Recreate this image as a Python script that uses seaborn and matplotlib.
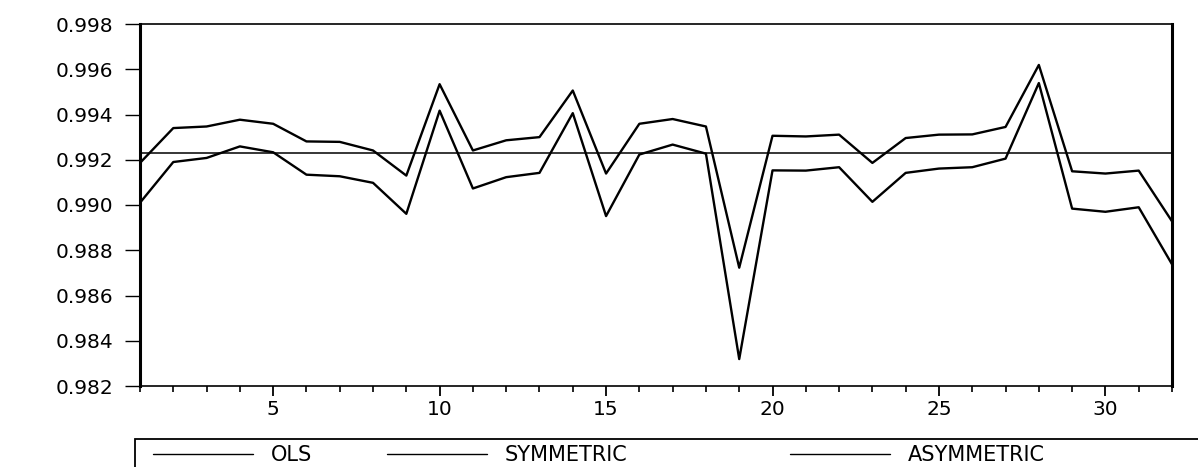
import numpy as np
import pandas as pd
import matplotlib
matplotlib.use("Agg")
import matplotlib.pyplot as plt
import seaborn as sns
from matplotlib.ticker import MultipleLocator, FixedLocator
from matplotlib.patches import Rectangle
from matplotlib.lines import Line2D

# ---- data ----
obs = list(range(1, 33))
ols = [0.99232] * 32
symmetric = [0.99186, 0.99340, 0.99347, 0.99377, 0.99359, 0.99281, 0.99279, 0.99241,
             0.99130, 0.99534, 0.99241, 0.99286, 0.99300, 0.99506, 0.99139, 0.99359,
             0.99380, 0.99347, 0.98723, 0.99306, 0.99303, 0.99311, 0.99186, 0.99296,
             0.99311, 0.99312, 0.99345, 0.99619, 0.99149, 0.99139, 0.99152, 0.98928]
asymmetric = [0.99010, 0.99190, 0.99208, 0.99259, 0.99233, 0.99134, 0.99127, 0.99098,
              0.98961, 0.99417, 0.99073, 0.99123, 0.99142, 0.99406, 0.98951, 0.99223,
              0.99267, 0.99227, 0.98319, 0.99153, 0.99152, 0.99167, 0.99014, 0.99142,
              0.99161, 0.99167, 0.99205, 0.99539, 0.98984, 0.98970, 0.98990, 0.98738]
series_names = ["OLS", "SYMMETRIC", "ASYMMETRIC"]
y_ticks = [0.982, 0.984, 0.986, 0.988, 0.990, 0.992, 0.994, 0.996, 0.998]
x_major = [5, 10, 15, 20, 25, 30]

sns.set_style("white")
plt.rcParams["font.family"] = ["DejaVu Sans"]
plt.rcParams["text.color"] = "black"

W, H = 1198, 467
fig = plt.figure(figsize=(W / 100, H / 100), dpi=100)
ax = fig.add_axes([140 / W, 1 - 386 / H, (1172 - 140) / W, (386 - 24) / H])

df = pd.DataFrame({"obs": obs, "OLS": ols, "SYMMETRIC": symmetric, "ASYMMETRIC": asymmetric})
sns.lineplot(data=df, x="obs", y="OLS", ax=ax, color="black", linewidth=1.1, label=series_names[0])
sns.lineplot(data=df, x="obs", y="SYMMETRIC", ax=ax, color="black", linewidth=1.7, label=series_names[1])
sns.lineplot(data=df, x="obs", y="ASYMMETRIC", ax=ax, color="black", linewidth=1.7, label=series_names[2])

ax.set_xlim(1, 32)
ax.set_ylim(0.982, 0.998)
ax.set_xlabel("")
ax.set_ylabel("")
ax.yaxis.set_major_locator(FixedLocator(y_ticks))
ax.set_yticklabels([f"{v:.3f}" for v in y_ticks])
ax.xaxis.set_major_locator(FixedLocator(x_major))
ax.xaxis.set_minor_locator(MultipleLocator(1))

ax.tick_params(axis="y", which="major", direction="out", length=11, width=1.0,
               pad=8, labelsize=14.5, color="black", labelcolor="black", left=True)
ax.tick_params(axis="x", which="major", direction="out", length=7, width=1.3,
               pad=3, labelsize=14.5, color="black", labelcolor="black", bottom=True)
ax.tick_params(axis="x", which="minor", direction="out", length=4, width=1.2,
               color="black", bottom=True)

for side, lw in {"left": 2.2, "right": 2.2, "top": 1.2, "bottom": 1.2}.items():
    ax.spines[side].set_visible(True)
    ax.spines[side].set_color("black")
    ax.spines[side].set_linewidth(lw)

ax.get_legend().remove()
_, labels = ax.get_legend_handles_labels()
proxies = [Line2D([], [], color="black", linewidth=1.0) for _ in labels]

# legend frame extends past the right edge, as in the reference
fig.patches.append(Rectangle((135 / W, 1 - 490 / H), (1215 - 135) / W, (490 - 439) / H,
                             transform=fig.transFigure, fill=False,
                             edgecolor="black", linewidth=1.3))
# one legend entry per reference position
entry_x = [153, 387, 790]
for h, lab, x0 in zip(proxies, labels, entry_x):
    lg = fig.legend([h], [lab], loc="center left",
                    bbox_to_anchor=(x0 / W, 1 - 455 / H), bbox_transform=fig.transFigure,
                    borderaxespad=0.0, borderpad=0.0, frameon=False, fontsize=15,
                    handlelength=4.8, handletextpad=0.85)
    for t in lg.get_texts():
        t.set_color("black")

fig.savefig("out.png", dpi=100, facecolor="white")
